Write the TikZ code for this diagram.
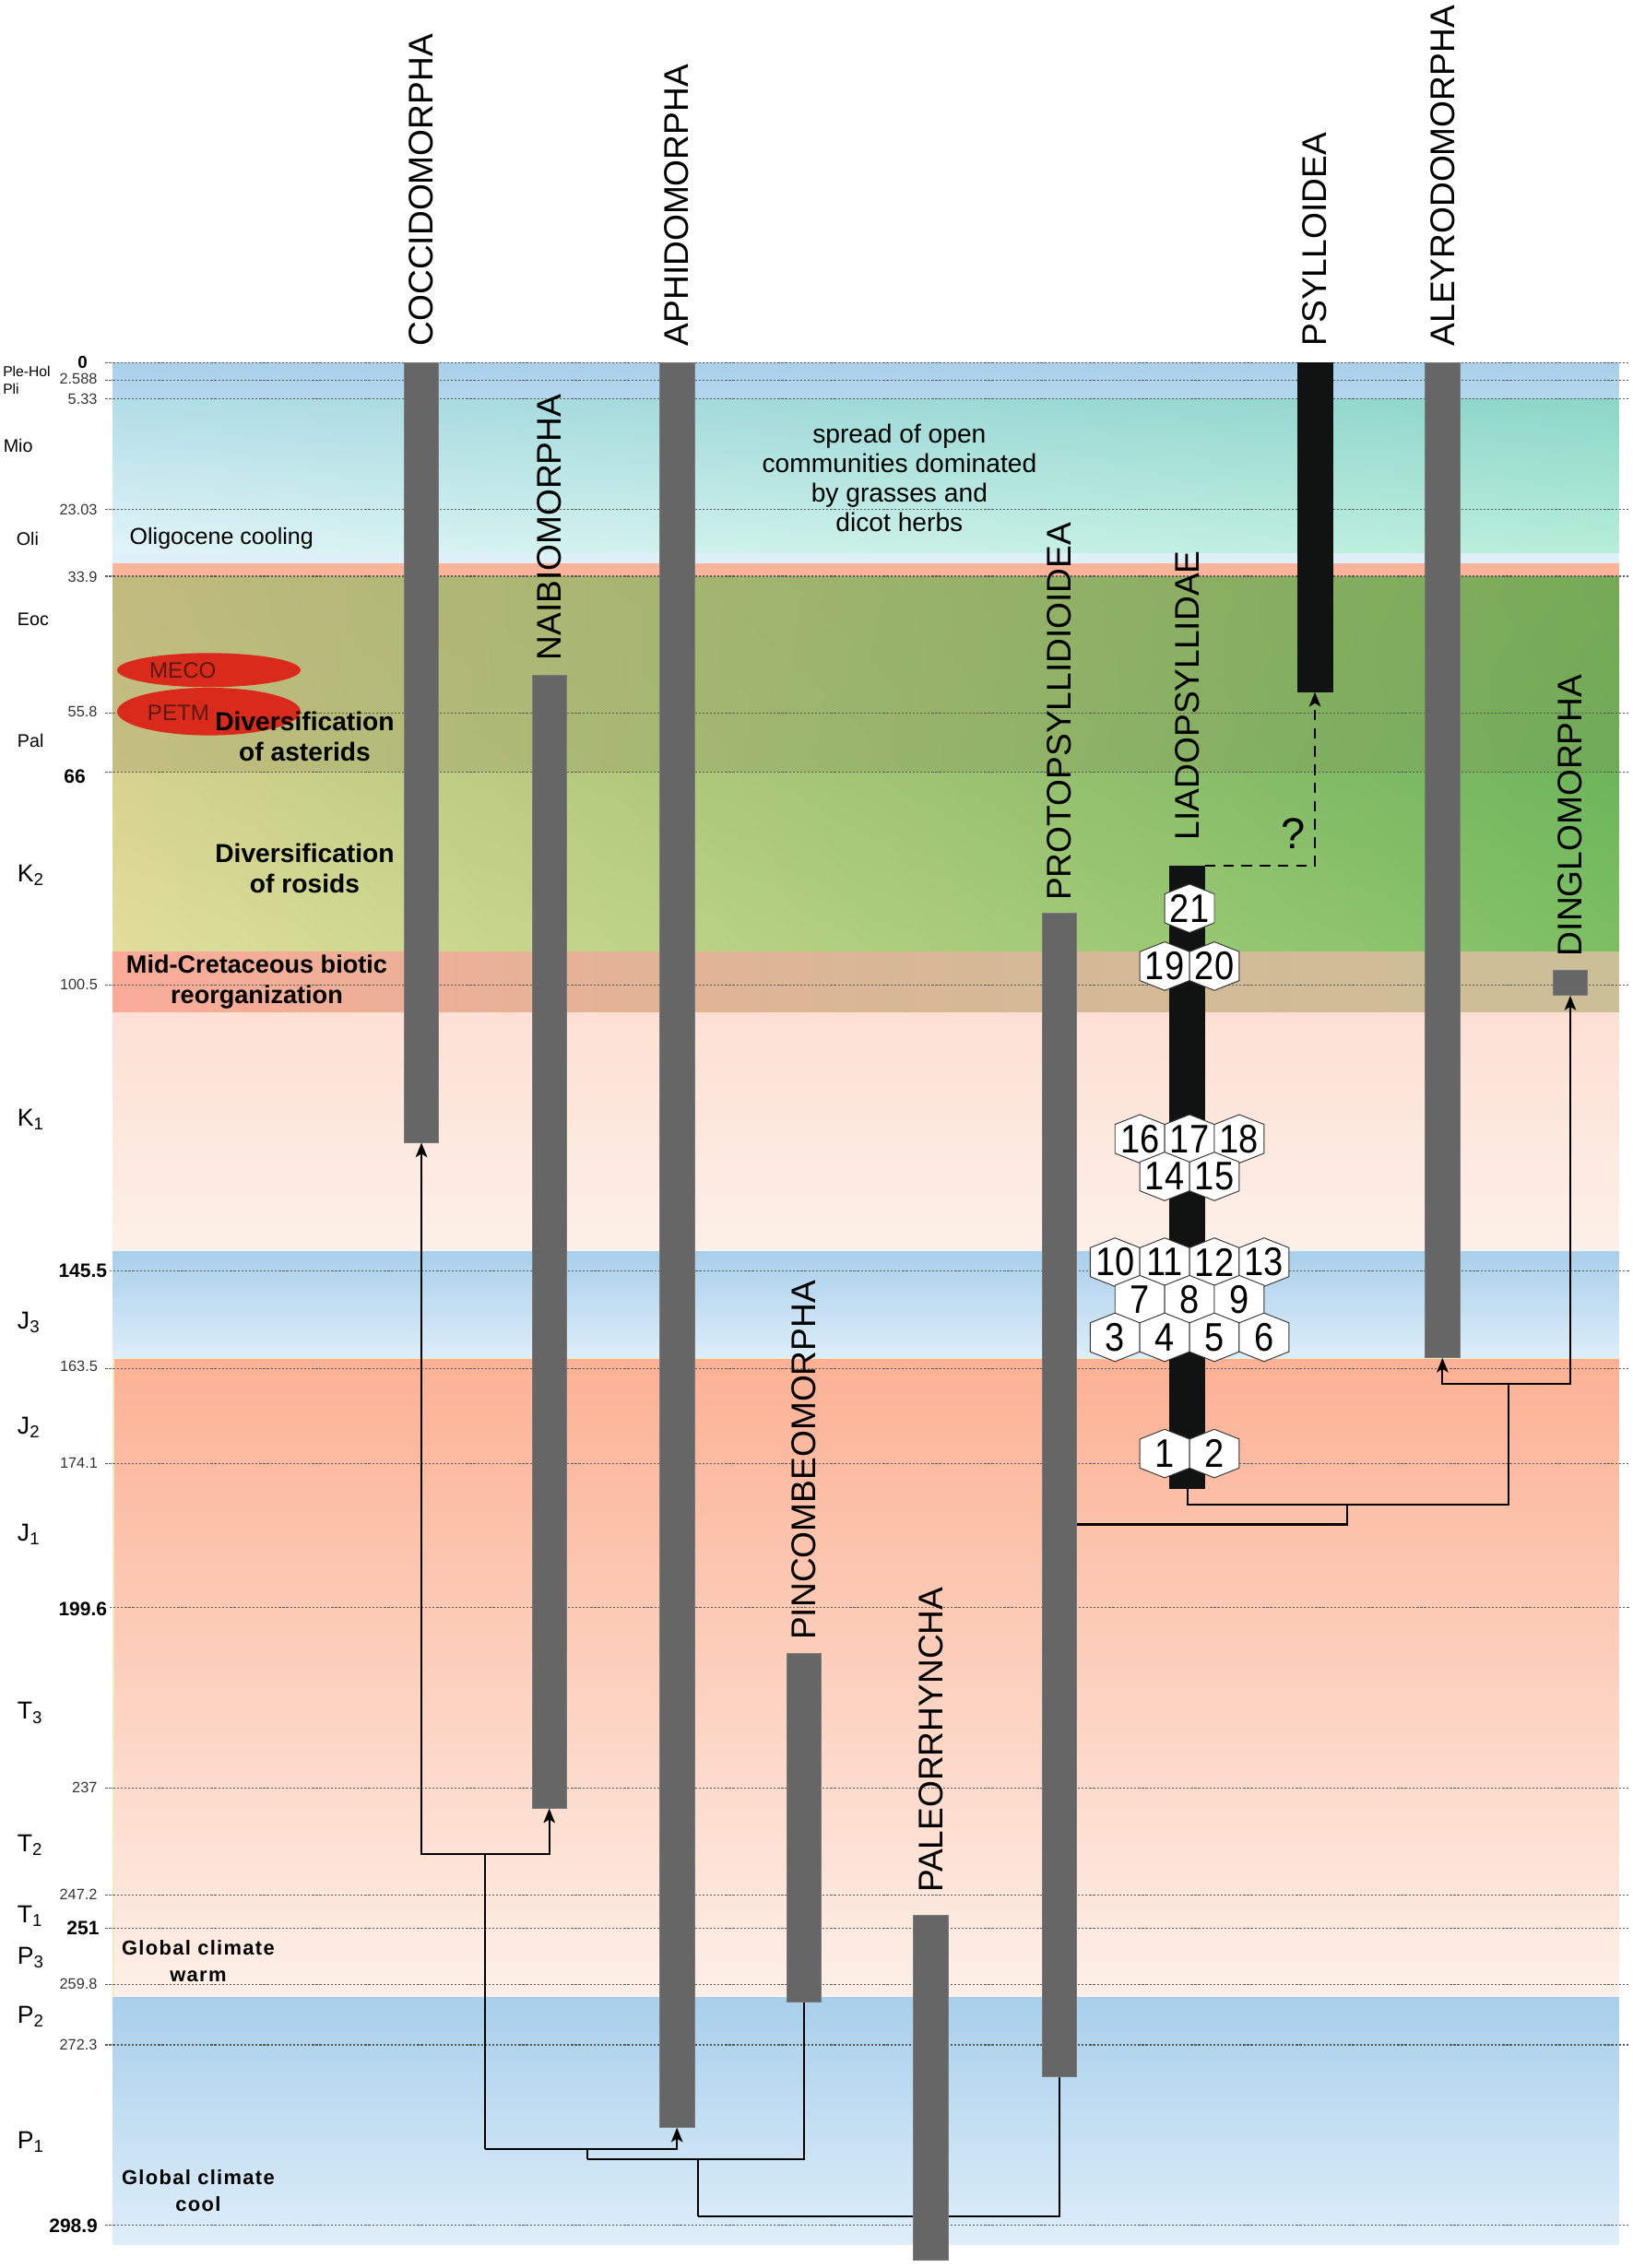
\documentclass[tikz,border=0pt]{standalone}
\usepackage{fontspec}
\setmainfont{Liberation Sans}
\newfontfamily\trackfont[LetterSpace=6.0]{Liberation Sans}
\newfontfamily\hexfont[FakeStretch=0.88]{Liberation Sans}
\usetikzlibrary{shapes.geometric,arrows.meta,fit,calc,shadings}
\definecolor{barGray}{HTML}{666666}
\definecolor{barEdge}{HTML}{7A7A7A}
\definecolor{barBlack}{HTML}{111212}
\definecolor{lineGray}{HTML}{5A5A5A}
\definecolor{numGray}{HTML}{333333}
\definecolor{ellRed}{HTML}{DA2A1C}
\definecolor{ellText}{HTML}{5A1A12}
\definecolor{bgAa}{HTML}{A9CFEA}\definecolor{bgAb}{HTML}{B4D8EE}
\definecolor{bgBa}{HTML}{B2DDE7}\definecolor{bgBb}{HTML}{8CD6C8}
\definecolor{bgBc}{HTML}{E0F4F8}\definecolor{bgBd}{HTML}{B6EED9}
\definecolor{bgC}{HTML}{DFF0F8}
\definecolor{bgD}{HTML}{FBB39A}
\definecolor{bgEa}{HTML}{C1BB7E}\definecolor{bgEb}{HTML}{76AA57}
\definecolor{bgEc}{HTML}{C4BF81}\definecolor{bgEd}{HTML}{6FAB57}
\definecolor{bgFa}{HTML}{D6D38E}\definecolor{bgFb}{HTML}{6DB55C}
\definecolor{bgFc}{HTML}{E2DE9C}\definecolor{bgFd}{HTML}{7CBF62}
\definecolor{bgGa}{HTML}{F9AB98}\definecolor{bgGm}{HTML}{D9B795}\definecolor{bgGb}{HTML}{CBBF98}
\definecolor{bgHa}{HTML}{FDE0D3}\definecolor{bgHb}{HTML}{FDF0E8}
\definecolor{bgIa}{HTML}{A9CFEB}\definecolor{bgIb}{HTML}{DDEEF9}
\definecolor{bgJa}{HTML}{FCB194}\definecolor{bgJb}{HTML}{FDF0E8}
\definecolor{bgJe}{HTML}{EEEDC2}
\definecolor{bgKa}{HTML}{A8CFEB}\definecolor{bgKb}{HTML}{DEEEF9}
\newcommand\hexcell[4]{%
  \draw[hexline] (#2,#3) ++(0,-16.8) -- ++(17.2,6.8) -- ++(0,20) -- ++(-17.2,6.8)
     -- ++(-17.2,-6.8) -- ++(0,-20) -- cycle;
  \node[hexnum] (#1) at (#2,#3) {#4};}
\begin{document}
\begin{tikzpicture}[x=0.5pt,y=-0.5pt,
  tline/.style={draw=lineGray, line width=0.35pt, dash pattern=on 0.7pt off 0.6pt},
  gbar/.style={fill=barGray, draw=barEdge, line width=0.3pt, inner sep=0pt},
  kbar/.style={fill=barBlack, draw=barBlack, line width=0.3pt, inner sep=0pt},
  taxon/.style={rotate=90, anchor=west, inner sep=0pt, font=\fontsize{11.85}{12}\selectfont},
  perlab/.style={anchor=base west, inner sep=0pt, font=\fontsize{8.5}{9}\selectfont},
  epolab/.style={anchor=base west, inner sep=0pt, font=\fontsize{6.3}{7}\selectfont},
  tinylab/.style={anchor=base west, inner sep=0pt, font=\fontsize{5}{6}\selectfont},
  agenum/.style={anchor=east, inner sep=0pt, text=numGray, font=\fontsize{5.2}{6}\selectfont},
  agebold/.style={anchor=east, inner sep=0pt, font=\bfseries\fontsize{6.7}{7}\selectfont},
  conn/.style={draw=black, line width=0.65pt},
  arr/.style={-{Stealth[length=5pt,width=4pt,inset=1.2pt]}},
  dashconn/.style={dash pattern=on 3.7pt off 2.6pt},
  hexline/.style={fill=white, draw=black!80, line width=0.3pt},
  hexnum/.style={inner sep=0pt, font=\hexfont\fontsize{13.8}{14}\selectfont},
  evlab/.style={align=center, inner sep=0pt, font=\bfseries\fontsize{9}{10.5}\selectfont},
  climlab/.style={align=center, inner sep=0pt, font=\trackfont\bfseries\fontsize{7}{9.15}\selectfont},
  redell/.style={ellipse, fill=ellRed, draw=none, inner sep=0pt, minimum width=63.5pt},
  elltext/.style={inner sep=0pt, text=ellText, font=\fontsize{7.7}{8}\selectfont},
]
\useasboundingbox (0,0) rectangle (1130,1570.5);

% ---------- background bands ----------
\shade[top color=bgAa, bottom color=bgAb] (78,251) rectangle (1121,276.2);
\shade[upper left=bgBa, upper right=bgBb, lower left=bgBc, lower right=bgBd] (78,276.2) rectangle (1121,383);
\fill[bgC] (78,383) rectangle (1121,390);
\fill[bgD] (78,390) rectangle (1121,399);
\shade[upper left=bgEa, upper right=bgEb, lower left=bgEc, lower right=bgEd] (78,399) rectangle (1121,534.8);
\shade[upper left=bgFa, upper right=bgFb, lower left=bgFc, lower right=bgFd] (78,534.8) rectangle (1121,659);
\shade[left color=bgGa, right color=bgGb, middle color=bgGm] (78,659) rectangle (1121,701);
\shade[top color=bgHa, bottom color=bgHb] (78,701) rectangle (1121,866.8);
\shade[top color=bgIa, bottom color=bgIb] (78,866.8) rectangle (1121,940.7);
\shade[top color=bgJa, bottom color=bgJb] (78,940.7) rectangle (1121,1383);
\draw[bgJe, line width=0.6pt] (78.3,1383) -- (78.3,940.7) -- (1121,940.7);
\shade[top color=bgKa, bottom color=bgKb] (78,1383) rectangle (1121,1554);

% ---------- time lines ----------
\foreach \yy in {251,263.4,276.2,352.6,399,493.7,534.8,682,947.5,1013.5,1238,1312,1335,1374,1416,1541}
  \draw[tline] (73,\yy) -- (1128,\yy);
\foreach \yy in {880,1113}
  \draw[tline] (76,\yy) -- (1128,\yy);

% ---------- events ----------
\node[redell, minimum height=11.8pt] (meco) at (144.6,464) {};
\node[redell, minimum height=16.5pt] (petm) at (144.6,492.7) {};
\node[elltext] (mecot) at (126.6,464) {MECO};
\node[elltext] (petmt) at (123.5,493.5) {PETM};
\node[evlab] (aster) at (211,510.3) {Diversification\\of asterids};
\node[evlab] (rosid) at (211,601.5) {Diversification\\of rosids};
\node[evlab, font=\bfseries\fontsize{8.65}{10.35}\selectfont] (midcret) at (177.8,680) {Mid-Cretaceous biotic\\reorganization};
\node[anchor=west, inner sep=0pt, font=\fontsize{8}{9}\selectfont] (oligo) at (89.4,373) {Oligocene cooling};
\node[align=center, inner sep=0pt, font=\fontsize{9}{10.3}\selectfont] (spread) at (622.7,331) {spread of open\\communities dominated\\by grasses and\\dicot herbs};
\node[climlab] (warm) at (137.2,1358) {Global climate\\warm};
\node[climlab] (cool) at (137.2,1517) {Global climate\\cool};

% ---------- bars ----------
\node[gbar, fit={(280,251) (303.6,791)}] (coc) {};
\node[gbar, fit={(368.4,467.6) (392.2,1252)}] (nai) {};
\node[gbar, fit={(456.5,251) (480.9,1473)}] (aph) {};
\node[gbar, fit={(544.6,1145) (568.4,1386)}] (pin) {};
\node[gbar, fit={(721.5,632) (745.1,1438)}] (pro) {};
\node[kbar, fit={(810,599.5) (834,1030.6)}] (liad) {};
\node[kbar, fit={(898.3,251) (922.5,479)}] (psy) {};
\node[gbar, fit={(986.6,251) (1010.8,940)}] (aley) {};
\node[gbar, fit={(1075.3,672.2) (1099.1,689.2)}] (ding) {};

% ---------- connectors ----------
\coordinate (j1) at (335.7,1283.8);
\coordinate (j2) at (335.7,1488.2);
\coordinate (j3) at (406.6,1488.2);
\coordinate (j4) at (406.6,1495.4);
\coordinate (j5) at (483.3,1495.4);
\coordinate (j6) at (483.3,1535);
\draw[conn,arr] (j1) -| (coc.south);
\draw[conn,arr] (j1) -| (nai.south);
\draw[conn] (j1) -- (j2);
\draw[conn,arr] (j2) -| (aph.south);
\draw[conn] (j3) -- (j4);
\draw[conn] (j4) -| (pin.south);
\draw[conn] (j5) -- (j6);
\draw[conn] (j6) -| (pro.south);

\coordinate (k1) at (932.7,1055.6);
\coordinate (k2) at (932.7,1041.7);
\coordinate (k3) at (1044.7,1041.7);
\coordinate (k4) at (1044.7,958.3);
\draw[conn] (pro.east |- k1) -- (k1) -- (k2);
\draw[conn] (liad.south) |- (k3) -- (k4);
\draw[conn,arr] (k4) -| (aley.south);
\draw[conn,arr] (k4) -| (ding.south);
\draw[conn,dashconn,arr] (liad.north east) -| (psy.south);
\node[inner sep=0pt, font=\fontsize{15}{16}\selectfont] (qm) at (895.5,577) {?};

\node[gbar, fit={(632.6,1326.4) (656.6,1565)}] (pal) {};

% ---------- hexagons ----------
\hexcell{h21}{823.6}{629}{21}
\hexcell{h19}{806.4}{669}{19}
\hexcell{h20}{840.8}{669}{20}
\hexcell{h16}{789.2}{788.6}{16}
\hexcell{h17}{823.6}{788.6}{17}
\hexcell{h18}{858}{788.6}{18}
\hexcell{h14}{806.4}{814.6}{14}
\hexcell{h15}{840.8}{814.6}{15}
\hexcell{h10}{772}{874}{10}
\hexcell{h11}{806.4}{874}{11}
\hexcell{h12}{840.8}{874}{12}
\hexcell{h13}{875.2}{874}{13}
\hexcell{h7}{789.2}{900}{7}
\hexcell{h8}{823.6}{900}{8}
\hexcell{h9}{858}{900}{9}
\hexcell{h3}{772}{926}{3}
\hexcell{h4}{806.4}{926}{4}
\hexcell{h5}{840.8}{926}{5}
\hexcell{h6}{875.2}{926}{6}
\hexcell{h1}{806.4}{1006.5}{1}
\hexcell{h2}{840.8}{1006.5}{2}

% ---------- taxon labels ----------
\node[taxon] (tcoc) at (291.8,240) {COCCIDOMORPHA};
\node[taxon] (taph) at (468.7,240) {APHIDOMORPHA};
\node[taxon] (tpsy) at (910.4,240) {PSYLLOIDEA};
\node[taxon] (taley) at (998.7,240) {ALEYRODOMORPHA};
\node[taxon] (tnai) at (380.3,457.8) {NAIBIOMORPHA};
\node[taxon] (tpro) at (733.3,624) {PROTOPSYLLIDIOIDEA};
\node[taxon] (tliad) at (822,582) {LIADOPSYLLIDAE};
\node[taxon] (tding) at (1087.2,662.5) {DINGLOMORPHA};
\node[taxon] (tpin) at (556.5,1136) {PINCOMBEOMORPHA};
\node[taxon] (tpal) at (644.6,1311) {PALEORRHYNCHA};

% ---------- left scale ----------
\node[tinylab] (lplehol) at (1.7,260.6) {Ple-Hol};
\node[tinylab] (lpli) at (1.7,272.6) {Pli};
\node[epolab] (lmio) at (2,313) {Mio};
\node[epolab] (loli) at (11,377.5) {Oli};
\node[epolab] (leoc) at (11.7,433.1) {Eoc};
\node[epolab] (lpal) at (11.7,517.5) {Pal};
\node[perlab] (lk2) at (11.7,610.5) {K\textsubscript{2}};
\node[perlab] (lk1) at (11.7,780) {K\textsubscript{1}};
\node[perlab] (lj3) at (11.7,920) {J\textsubscript{3}};
\node[perlab] (lj2) at (11.7,993) {J\textsubscript{2}};
\node[perlab] (lj1) at (11.7,1067) {J\textsubscript{1}};
\node[perlab] (lt3) at (11.7,1190.6) {T\textsubscript{3}};
\node[perlab] (lt2) at (11.7,1282) {T\textsubscript{2}};
\node[perlab] (lt1) at (11.7,1331.4) {T\textsubscript{1}};
\node[perlab] (lp3) at (11.7,1360) {P\textsubscript{3}};
\node[perlab] (lp2) at (11.7,1401) {P\textsubscript{2}};
\node[perlab] (lp1) at (11.7,1488) {P\textsubscript{1}};

\node[agebold, font=\bfseries\fontsize{6}{7}\selectfont] (n0) at (61,251) {0};
\node[agenum] (n2588) at (67.7,262) {2.588};
\node[agenum] (n533) at (67.7,276.5) {5.33};
\node[agenum] (n2303) at (67.7,353) {23.03};
\node[agenum] (n339) at (67.7,399.5) {33.9};
\node[agenum] (n558) at (67.7,493) {55.8};
\node[agebold] (n66) at (59.6,537.5) {66};
\node[agenum] (n1005) at (68,681.8) {100.5};
\node[agebold] (n1455) at (74.5,880) {145.5};
\node[agenum] (n1635) at (68,946) {163.5};
\node[agenum] (n1741) at (68,1013) {174.1};
\node[agebold] (n1996) at (74.5,1114) {199.6};
\node[agenum] (n237) at (67.7,1238) {237};
\node[agenum] (n2472) at (67.7,1312) {247.2};
\node[agebold] (n251) at (69,1335) {251};
\node[agenum] (n2598) at (67.7,1374) {259.8};
\node[agenum] (n2723) at (67.7,1416) {272.3};
\node[agebold] (n2989) at (68,1541) {298.9};
\end{tikzpicture}
\end{document}
